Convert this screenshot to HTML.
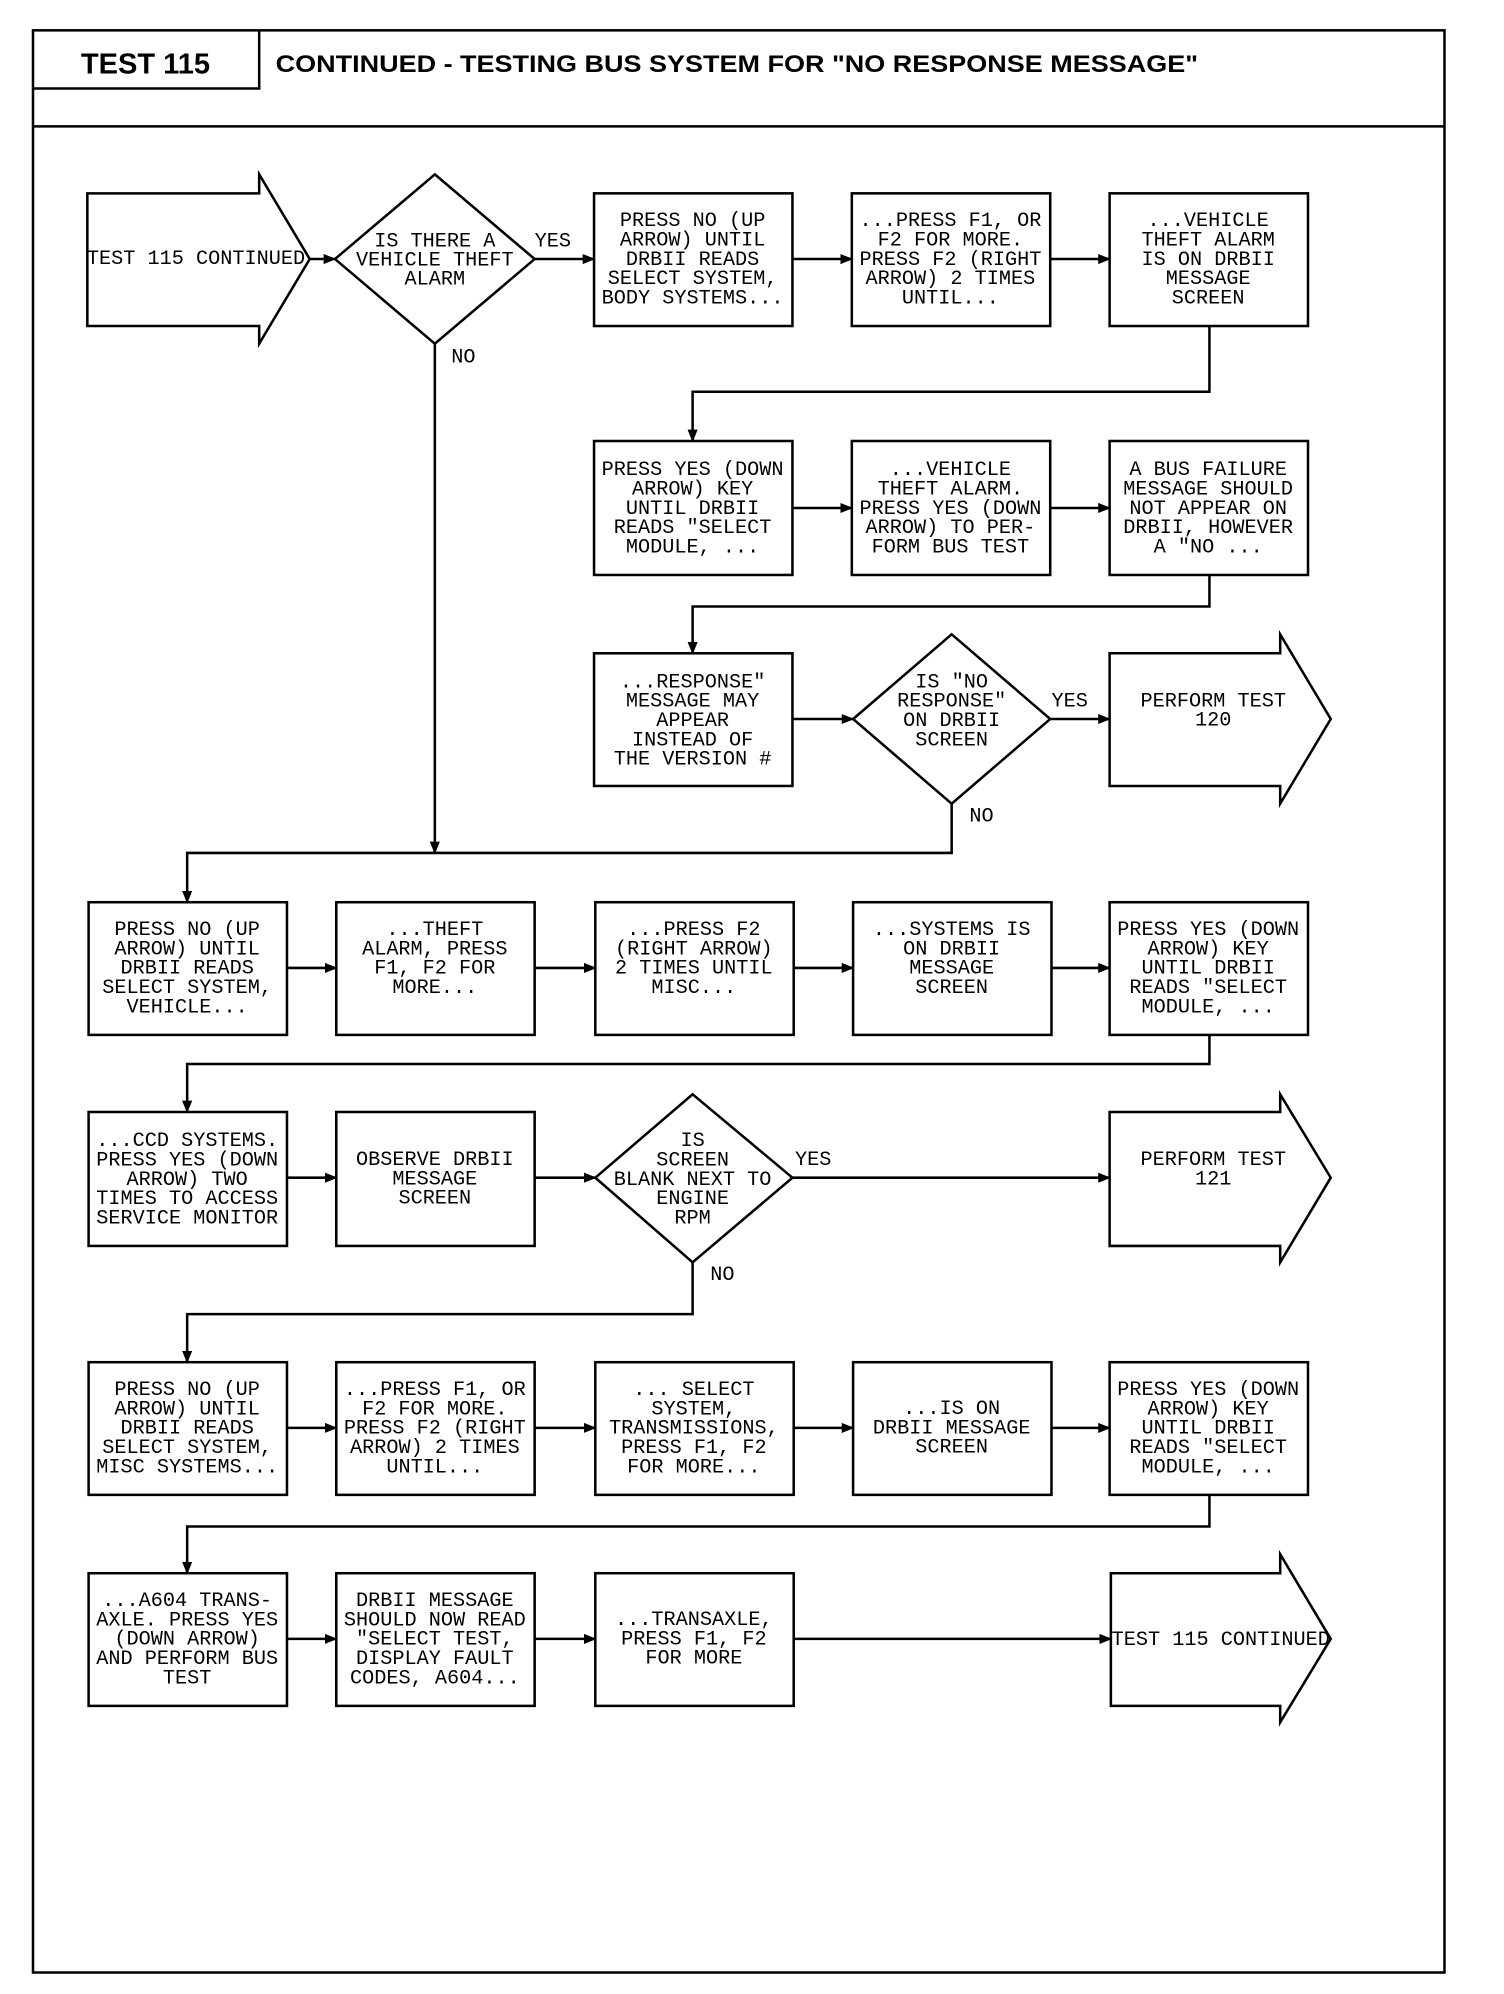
<!DOCTYPE html>
<html><head><meta charset="utf-8"><style>
html,body{margin:0;padding:0;background:#fff;}
svg{display:block;}
.t{font-family:"Liberation Mono",monospace;font-size:16px;fill:#000;text-anchor:middle;}
.l{font-family:"Liberation Mono",monospace;font-size:16px;fill:#000;}
</style></head><body>
<svg width="1504" height="1994" viewBox="0 0 1190 1578" xmlns="http://www.w3.org/2000/svg">
<defs><marker id="a" markerWidth="10" markerHeight="10" refX="9" refY="5" orient="auto" markerUnits="userSpaceOnUse"><path d="M0,1 L10,5 L0,9 Z" fill="#000"/></marker></defs>
<g fill="none" stroke="#000" stroke-width="2">
<rect x="26" y="24" width="1117" height="1537"/>
<line x1="26" y1="100" x2="1143" y2="100"/>
<polyline points="26,70 205,70 205,24"/>
</g>
<text x="115" y="58" style="font-family:'Liberation Sans',sans-serif;font-weight:bold;font-size:23px;text-anchor:middle">TEST 115</text>
<text x="218" y="57" textLength="730" lengthAdjust="spacingAndGlyphs" style="font-family:'Liberation Sans',sans-serif;font-weight:bold;font-size:19px">CONTINUED - TESTING BUS SYSTEM FOR "NO RESPONSE MESSAGE"</text>

<g fill="#fff" stroke="#000" stroke-width="2">
<!-- row1 -->
<polygon points="69,153 205,153 205,138 245,205 205,272 205,258 69,258"/>
<polygon points="344,138 423,205 344,272 265,205"/>
<rect x="470" y="153" width="157" height="105"/>
<rect x="674" y="153" width="157" height="105"/>
<rect x="878" y="153" width="157" height="105"/>
<!-- row2 -->
<rect x="470" y="349" width="157" height="106"/>
<rect x="674" y="349" width="157" height="106"/>
<rect x="878" y="349" width="157" height="106"/>
<!-- row3 -->
<rect x="470" y="517" width="157" height="105"/>
<polygon points="753,502 831,569 753,636 675,569"/>
<polygon points="878,517 1013,517 1013,502 1053,569 1013,636 1013,622 878,622"/>
<!-- row4 -->
<rect x="70" y="714" width="157" height="105"/>
<rect x="266" y="714" width="157" height="105"/>
<rect x="471" y="714" width="157" height="105"/>
<rect x="675" y="714" width="157" height="105"/>
<rect x="878" y="714" width="157" height="105"/>
<!-- row5 -->
<rect x="70" y="880" width="157" height="106"/>
<rect x="266" y="880" width="157" height="106"/>
<polygon points="548,866 627,932 548,999 471,932"/>
<polygon points="878,880 1013,880 1013,866 1053,932 1013,999 1013,986 878,986"/>
<!-- row6 -->
<rect x="70" y="1078" width="157" height="105"/>
<rect x="266" y="1078" width="157" height="105"/>
<rect x="471" y="1078" width="157" height="105"/>
<rect x="675" y="1078" width="157" height="105"/>
<rect x="878" y="1078" width="157" height="105"/>
<!-- row7 -->
<rect x="70" y="1245" width="157" height="105"/>
<rect x="266" y="1245" width="157" height="105"/>
<rect x="471" y="1245" width="157" height="105"/>
<polygon points="879,1245 1013,1245 1013,1230 1053,1297 1013,1363 1013,1350 879,1350"/>
</g>

<g fill="none" stroke="#000" stroke-width="2" marker-end="url(#a)">
<line x1="245" y1="205" x2="265" y2="205"/>
<line x1="423" y1="205" x2="470" y2="205"/>
<line x1="627" y1="205" x2="674" y2="205"/>
<line x1="831" y1="205" x2="878" y2="205"/>
<polyline points="957,258 957,310 548,310 548,349"/>
<line x1="627" y1="402" x2="674" y2="402"/>
<line x1="831" y1="402" x2="878" y2="402"/>
<polyline points="957,455 957,480 548,480 548,517"/>
<line x1="627" y1="569" x2="675" y2="569"/>
<line x1="831" y1="569" x2="878" y2="569"/>
<line x1="344" y1="272" x2="344" y2="675"/>
<polyline points="753,636 753,675 148,675 148,714"/>
<line x1="227" y1="766" x2="266" y2="766"/>
<line x1="423" y1="766" x2="471" y2="766"/>
<line x1="628" y1="766" x2="675" y2="766"/>
<line x1="832" y1="766" x2="878" y2="766"/>
<polyline points="957,819 957,842 148,842 148,880"/>
<line x1="227" y1="932" x2="266" y2="932"/>
<line x1="423" y1="932" x2="471" y2="932"/>
<line x1="627" y1="932" x2="878" y2="932"/>
<polyline points="548,999 548,1040 148,1040 148,1078"/>
<line x1="227" y1="1130" x2="266" y2="1130"/>
<line x1="423" y1="1130" x2="471" y2="1130"/>
<line x1="628" y1="1130" x2="675" y2="1130"/>
<line x1="832" y1="1130" x2="878" y2="1130"/>
<polyline points="957,1183 957,1208 148,1208 148,1245"/>
<line x1="227" y1="1297" x2="266" y2="1297"/>
<line x1="423" y1="1297" x2="471" y2="1297"/>
<line x1="628" y1="1297" x2="879" y2="1297"/>
</g>

<g class="t">
<text x="155" y="209">TEST 115 CONTINUED</text>
<text y="195"><tspan x="344">IS THERE A</tspan><tspan x="344" dy="15">VEHICLE THEFT</tspan><tspan x="344" dy="15">ALARM</tspan></text>
<text y="179"><tspan x="548">PRESS NO (UP</tspan><tspan x="548" dy="15.3">ARROW) UNTIL</tspan><tspan x="548" dy="15.3">DRBII READS</tspan><tspan x="548" dy="15.3">SELECT SYSTEM,</tspan><tspan x="548" dy="15.3">BODY SYSTEMS...</tspan></text>
<text y="179"><tspan x="752">...PRESS F1, OR</tspan><tspan x="752" dy="15.3">F2 FOR MORE.</tspan><tspan x="752" dy="15.3">PRESS F2 (RIGHT</tspan><tspan x="752" dy="15.3">ARROW) 2 TIMES</tspan><tspan x="752" dy="15.3">UNTIL...</tspan></text>
<text y="179"><tspan x="956">...VEHICLE</tspan><tspan x="956" dy="15.3">THEFT ALARM</tspan><tspan x="956" dy="15.3">IS ON DRBII</tspan><tspan x="956" dy="15.3">MESSAGE</tspan><tspan x="956" dy="15.3">SCREEN</tspan></text>

<text y="376"><tspan x="548">PRESS YES (DOWN</tspan><tspan x="548" dy="15.3">ARROW) KEY</tspan><tspan x="548" dy="15.3">UNTIL DRBII</tspan><tspan x="548" dy="15.3">READS "SELECT</tspan><tspan x="548" dy="15.3">MODULE, ...</tspan></text>
<text y="376"><tspan x="752">...VEHICLE</tspan><tspan x="752" dy="15.3">THEFT ALARM.</tspan><tspan x="752" dy="15.3">PRESS YES (DOWN</tspan><tspan x="752" dy="15.3">ARROW) TO PER-</tspan><tspan x="752" dy="15.3">FORM BUS TEST</tspan></text>
<text y="376"><tspan x="956">A BUS FAILURE</tspan><tspan x="956" dy="15.3">MESSAGE SHOULD</tspan><tspan x="956" dy="15.3">NOT APPEAR ON</tspan><tspan x="956" dy="15.3">DRBII, HOWEVER</tspan><tspan x="956" dy="15.3">A "NO ...</tspan></text>

<text y="544"><tspan x="548">...RESPONSE"</tspan><tspan x="548" dy="15.3">MESSAGE MAY</tspan><tspan x="548" dy="15.3">APPEAR</tspan><tspan x="548" dy="15.3">INSTEAD OF</tspan><tspan x="548" dy="15.3">THE VERSION #</tspan></text>
<text y="544"><tspan x="753">IS "NO</tspan><tspan x="753" dy="15.3">RESPONSE"</tspan><tspan x="753" dy="15.3">ON DRBII</tspan><tspan x="753" dy="15.3">SCREEN</tspan></text>
<text y="559"><tspan x="960">PERFORM TEST</tspan><tspan x="960" dy="15.3">120</tspan></text>

<text y="740"><tspan x="148">PRESS NO (UP</tspan><tspan x="148" dy="15.3">ARROW) UNTIL</tspan><tspan x="148" dy="15.3">DRBII READS</tspan><tspan x="148" dy="15.3">SELECT SYSTEM,</tspan><tspan x="148" dy="15.3">VEHICLE...</tspan></text>
<text y="740"><tspan x="344">...THEFT</tspan><tspan x="344" dy="15.3">ALARM, PRESS</tspan><tspan x="344" dy="15.3">F1, F2 FOR</tspan><tspan x="344" dy="15.3">MORE...</tspan></text>
<text y="740"><tspan x="549">...PRESS F2</tspan><tspan x="549" dy="15.3">(RIGHT ARROW)</tspan><tspan x="549" dy="15.3">2 TIMES UNTIL</tspan><tspan x="549" dy="15.3">MISC...</tspan></text>
<text y="740"><tspan x="753">...SYSTEMS IS</tspan><tspan x="753" dy="15.3">ON DRBII</tspan><tspan x="753" dy="15.3">MESSAGE</tspan><tspan x="753" dy="15.3">SCREEN</tspan></text>
<text y="740"><tspan x="956">PRESS YES (DOWN</tspan><tspan x="956" dy="15.3">ARROW) KEY</tspan><tspan x="956" dy="15.3">UNTIL DRBII</tspan><tspan x="956" dy="15.3">READS "SELECT</tspan><tspan x="956" dy="15.3">MODULE, ...</tspan></text>

<text y="907"><tspan x="148">...CCD SYSTEMS.</tspan><tspan x="148" dy="15.3">PRESS YES (DOWN</tspan><tspan x="148" dy="15.3">ARROW) TWO</tspan><tspan x="148" dy="15.3">TIMES TO ACCESS</tspan><tspan x="148" dy="15.3">SERVICE MONITOR</tspan></text>
<text y="922"><tspan x="344">OBSERVE DRBII</tspan><tspan x="344" dy="15.3">MESSAGE</tspan><tspan x="344" dy="15.3">SCREEN</tspan></text>
<text y="907"><tspan x="548">IS</tspan><tspan x="548" dy="15.3">SCREEN</tspan><tspan x="548" dy="15.3">BLANK NEXT TO</tspan><tspan x="548" dy="15.3">ENGINE</tspan><tspan x="548" dy="15.3">RPM</tspan></text>
<text y="922"><tspan x="960">PERFORM TEST</tspan><tspan x="960" dy="15.3">121</tspan></text>

<text y="1104"><tspan x="148">PRESS NO (UP</tspan><tspan x="148" dy="15.3">ARROW) UNTIL</tspan><tspan x="148" dy="15.3">DRBII READS</tspan><tspan x="148" dy="15.3">SELECT SYSTEM,</tspan><tspan x="148" dy="15.3">MISC SYSTEMS...</tspan></text>
<text y="1104"><tspan x="344">...PRESS F1, OR</tspan><tspan x="344" dy="15.3">F2 FOR MORE.</tspan><tspan x="344" dy="15.3">PRESS F2 (RIGHT</tspan><tspan x="344" dy="15.3">ARROW) 2 TIMES</tspan><tspan x="344" dy="15.3">UNTIL...</tspan></text>
<text y="1104"><tspan x="549">... SELECT</tspan><tspan x="549" dy="15.3">SYSTEM,</tspan><tspan x="549" dy="15.3">TRANSMISSIONS,</tspan><tspan x="549" dy="15.3">PRESS F1, F2</tspan><tspan x="549" dy="15.3">FOR MORE...</tspan></text>
<text y="1119"><tspan x="753">...IS ON</tspan><tspan x="753" dy="15.3">DRBII MESSAGE</tspan><tspan x="753" dy="15.3">SCREEN</tspan></text>
<text y="1104"><tspan x="956">PRESS YES (DOWN</tspan><tspan x="956" dy="15.3">ARROW) KEY</tspan><tspan x="956" dy="15.3">UNTIL DRBII</tspan><tspan x="956" dy="15.3">READS "SELECT</tspan><tspan x="956" dy="15.3">MODULE, ...</tspan></text>

<text y="1271"><tspan x="148">...A604 TRANS-</tspan><tspan x="148" dy="15.3">AXLE. PRESS YES</tspan><tspan x="148" dy="15.3">(DOWN ARROW)</tspan><tspan x="148" dy="15.3">AND PERFORM BUS</tspan><tspan x="148" dy="15.3">TEST</tspan></text>
<text y="1271"><tspan x="344">DRBII MESSAGE</tspan><tspan x="344" dy="15.3">SHOULD NOW READ</tspan><tspan x="344" dy="15.3">"SELECT TEST,</tspan><tspan x="344" dy="15.3">DISPLAY FAULT</tspan><tspan x="344" dy="15.3">CODES, A604...</tspan></text>
<text y="1286"><tspan x="549">...TRANSAXLE,</tspan><tspan x="549" dy="15.3">PRESS F1, F2</tspan><tspan x="549" dy="15.3">FOR MORE</tspan></text>
<text x="966" y="1302">TEST 115 CONTINUED</text>
</g>
<g class="l">
<text x="423" y="195">YES</text>
<text x="357" y="287">NO</text>
<text x="832" y="559">YES</text>
<text x="767" y="650">NO</text>
<text x="629" y="922">YES</text>
<text x="562" y="1013">NO</text>
</g>
</svg>
</body></html>
